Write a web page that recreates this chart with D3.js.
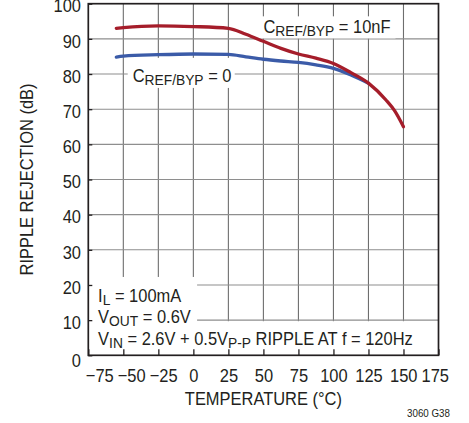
<!DOCTYPE html>
<html><head><meta charset="utf-8">
<script src="https://cdn.jsdelivr.net/npm/d3@7"></script>
<style>
html,body{margin:0;padding:0;background:#fff;}
svg{display:block;font-family:"Liberation Sans",Arial,Helvetica,sans-serif;}
text{white-space:pre;}
</style></head><body>
<svg id="c" width="469" height="423"></svg>
<script>
// ---- data ----
const xTicks = [-75,-50,-25,0,25,50,75,100,125,150,175];
const yTicks = [0,10,20,30,40,50,60,70,80,90,100];
const tempRed   = [-55,-50,-25,0,25,37.5,50,62.5,75,87.5,100,112.5,125,137.5,143.75,150];
const rippleRed = [93.0,93.2,93.7,93.5,93.0,91.3,89.3,87.3,85.7,84.5,83.0,80.4,77.4,72.6,69.5,65.0];
const tempBlue   = [-55,-50,-25,0,25,37.5,50,62.5,75,87.5,100,112.5,125];
const rippleBlue = [84.8,85.1,85.5,85.7,85.6,84.9,84.2,83.7,83.3,82.6,81.6,79.7,77.4];
const labelRed  = [["C",0],["REF/BYP",1],[" = 10nF",0]];
const labelBlue = [["C",0],["REF/BYP",1],[" = 0",0]];
const noteLines = [
  [["I",0],["L",1],[" = 100mA",0]],
  [["V",0],["OUT",1],[" = 0.6V",0]],
  [["V",0],["IN",1],[" = 2.6V + 0.5V",0],["P-P",1],[" RIPPLE AT f = 120Hz",0]]
];
const xTitle = "TEMPERATURE (°C)";
const yTitle = "RIPPLE REJECTION (dB)";
const figId = "3060 G38";

// ---- layout ----
const L=88.3,R=438.5,T=3.7,B=355.3;
const FS=18.5, SUB=15.5, K=0.89;   // K: horizontal squeeze to mimic a condensed face
const ink="#231f20", redC="#a51d2a", blueC="#3b5ba8";

const svg=d3.select("#c");
const x=d3.scaleLinear().domain([-75,175]).range([L,R]);
const y=d3.scaleLinear().domain([0,100]).range([B,T]);

// grid
const grid=svg.append("g");
grid.selectAll(".gx").data(xTicks.slice(1,-1)).join("line")
  .attr("x1",d=>x(d)).attr("x2",d=>x(d)).attr("y1",T).attr("y2",B)
  .attr("stroke","#6e6e6e").attr("stroke-width",1.1);
grid.selectAll(".gy").data(yTicks.slice(1,-1)).join("line")
  .attr("x1",L).attr("x2",R).attr("y1",d=>y(d)).attr("y2",d=>y(d))
  .attr("stroke","#8e8e8e").attr("stroke-width",1.1);

const bgLayer=svg.append("g");
const curveLayer=svg.append("g");
const textLayer=svg.append("g").attr("font-size",FS).attr("fill",ink);

function rich(g,px,py,parts){
  const t=g.append("text").attr("transform",`translate(${px},${py}) scale(${K},1)`);
  t.datum({px,py});
  let shifted=false;
  parts.forEach(([s,sub])=>{
    const ts=t.append("tspan").text(s);
    if(sub && !shifted){ts.attr("font-size",SUB).attr("dy",3);shifted=true;}
    else if(!sub && shifted){ts.attr("dy",-3);shifted=false;}
    else if(sub){ts.attr("font-size",SUB);}
  });
  return t;
}
function ext(t){
  const b=t.node().getBBox(), p=t.datum();
  return {x:p.px+b.x*K, w:b.width*K, y:p.py+b.y, h:b.height};
}
function rect(x0,y0,x1,y1){
  bgLayer.append("rect").attr("x",x0).attr("y",y0).attr("width",x1-x0).attr("height",y1-y0).attr("fill","#fff");
}

// series labels
const tRed=rich(textLayer,x(50),y(91.6),labelRed);
let e=ext(tRed); rect(e.x-5,e.y,e.x+e.w+5,e.y+e.h-1);
const tBlue=rich(textLayer,x(-43.3),y(77.8),labelBlue);
e=ext(tBlue); rect(e.x-5,e.y-7,e.x+e.w+3,e.y+e.h);

// notes
const noteY=[15.2,9.1,2.9];
const nt=noteLines.map((ln,i)=>rich(textLayer,x(-68),y(noteY[i]),ln));
const e0=ext(nt[0]), e1=ext(nt[1]), e2=ext(nt[2]);
rect(L, e0.y-8, Math.max(e0.x+e0.w,e1.x+e1.w)+6, e2.y-6);
rect(L, e2.y-7, e2.x+e2.w+6, B);

// curves
const line=d3.line().curve(d3.curveMonotoneX);
curveLayer.append("path").attr("d",line(tempBlue.map((t,i)=>[x(t),y(rippleBlue[i])])))
  .attr("fill","none").attr("stroke",blueC).attr("stroke-width",3.3).attr("stroke-linecap","round");
curveLayer.append("path").attr("d",line(tempRed.map((t,i)=>[x(t),y(rippleRed[i])])))
  .attr("fill","none").attr("stroke",redC).attr("stroke-width",3.3).attr("stroke-linecap","round");

// axes
const ax=d3.axisBottom(x).tickValues(xTicks).tickSize(-6).tickSizeOuter(0);
const gx=svg.append("g").attr("transform",`translate(0,${B})`).call(ax);
const ay=d3.axisLeft(y).tickValues(yTicks).tickSize(-4).tickSizeOuter(0);
const gy=svg.append("g").attr("transform",`translate(${L},0)`).call(ay);
[gx,gy].forEach(g=>{
  g.select(".domain").remove();
  g.selectAll(".tick line").attr("stroke",ink).attr("stroke-width",1.3);
  g.selectAll(".tick text").attr("font-size",FS).attr("font-family",null).attr("fill",ink)
    .attr("x",0).attr("y",0).attr("dy",0);
});
gy.selectAll(".tick text").attr("transform",d=>`translate(-7.3,${d===0?11:(d===100?7.5:8.3)}) scale(${K},1)`);

// resolve x label overlap
const items=gx.selectAll(".tick text").nodes().map((n,i)=>({n,t:xTicks[i],c:x(xTicks[i]),w:n.getComputedTextLength()*K}));
const gap=4;
let minL=x(xTicks[0])-3;
items.forEach(it=>{ if(it.c-it.w/2<minL) it.c=minL+it.w/2; minL=it.c+it.w/2+gap; });
let maxR=x(xTicks[xTicks.length-1])+10;
for(let i=items.length-1;i>=0;i--){const it=items[i]; if(it.c+it.w/2>maxR) it.c=maxR-it.w/2; maxR=it.c-it.w/2-gap;}
items.forEach(it=>d3.select(it.n).attr("transform",`translate(${it.c-x(it.t)},26.4) scale(${K},1)`));

// frame
svg.append("rect").attr("x",L).attr("y",T).attr("width",R-L).attr("height",B-T)
  .attr("fill","none").attr("stroke",ink).attr("stroke-width",1.7);

// titles
svg.append("text").attr("transform",`translate(${(L+R)/2},405) scale(${K},1)`).attr("text-anchor","middle")
  .attr("font-size",FS).attr("fill",ink).text(xTitle);
svg.append("text").attr("transform",`translate(33.3,${(T+B)/2}) rotate(-90) scale(${K},1)`).attr("text-anchor","middle")
  .attr("font-size",FS).attr("fill",ink).text(yTitle);
svg.append("text").attr("transform",`translate(450,416.5) scale(${K},1)`).attr("text-anchor","end")
  .attr("font-size",11).attr("fill",ink).text(figId);
</script>
</body></html>
